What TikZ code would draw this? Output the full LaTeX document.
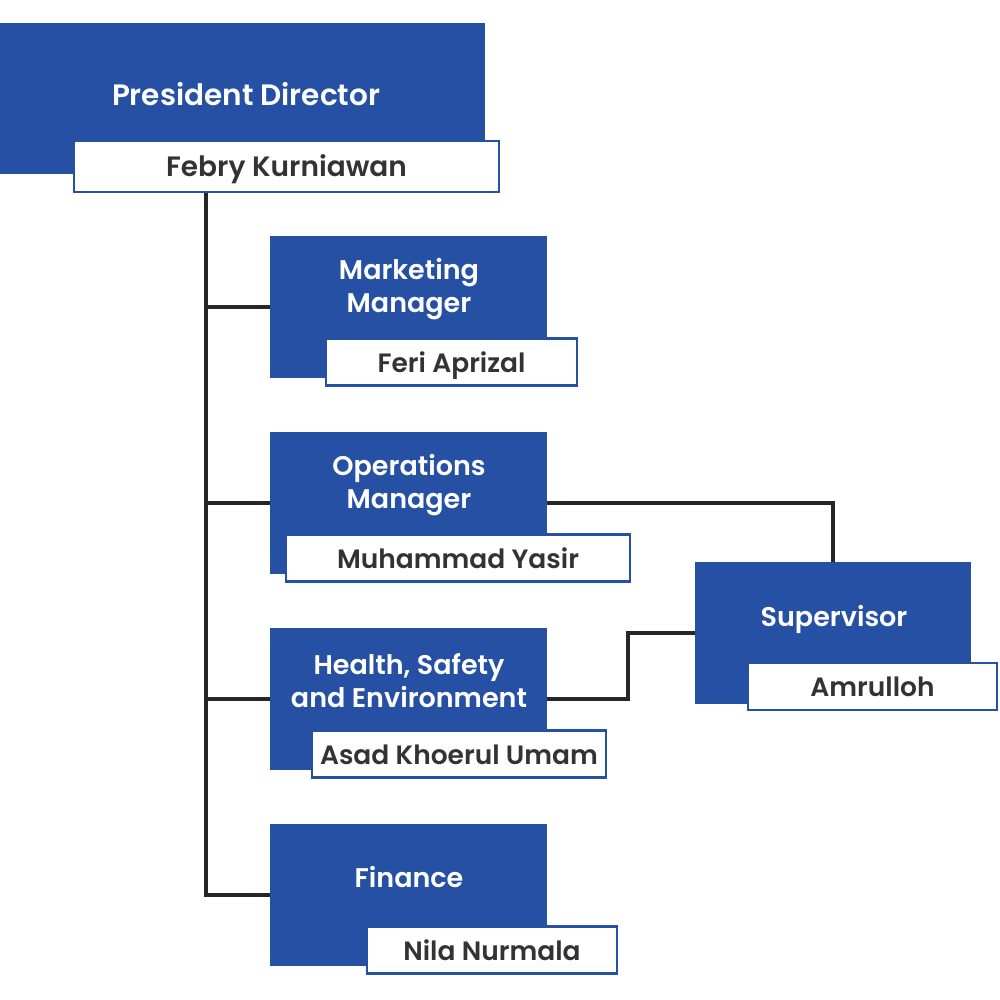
\documentclass[tikz,border=0pt]{standalone}
\usepackage{fontspec}
\setmainfont{Poppins}[BoldFont={* SemiBold}]
\usetikzlibrary{positioning}
\definecolor{orgblue}{HTML}{2550A3}
\definecolor{namegray}{HTML}{333333}
\tikzset{
  rolebox/.style={fill=orgblue, minimum width=277pt, minimum height=142pt, inner sep=0pt},
  roletext/.style={text=white, font=\bfseries\fontsize{27}{33}\selectfont, align=center, inner sep=0pt},
  namebox/.style={fill=white, draw=orgblue, line width=2.5pt, minimum height=47pt, inner sep=0pt,
    text height=24pt, text depth=4pt, text=namegray, font=\bfseries\fontsize{26.5}{30}\selectfont},
  link/.style={draw=black!85, line width=3.5pt}
}

\begin{document}
\begin{tikzpicture}[x=1pt, y=-1pt]
\useasboundingbox (0,0) rectangle (1000,1000);
\node [rolebox, minimum width=485pt, minimum height=151pt] (pres) at (242.5,98.5) {};
\node [roletext, font=\bfseries\fontsize{29.5}{34}\selectfont] (preslabel) at (246,94) {President Director};
\node [namebox, minimum width=425pt, minimum height=51pt, font=\bfseries\fontsize{28}{32}\selectfont] (presname) at (286.5,166.5) {Febry Kurniawan};
\foreach \id/\y/\role/\person/\nx/\nw in {
  mkt/307/{Marketing\\Manager}/Feri Aprizal/451.5/251,
  ops/503/{Operations\\Manager}/Muhammad Yasir/458/344,
  hse/699/{Health, Safety\\and Environment}/Asad Khoerul Umam/459/294,
  fin/895/{Finance}/Nila Nurmala/492/250} {
  \node [rolebox] (\id) at (408.5,\y) {};
  \node [roletext] (\id label) at (409,\y-18) {\role};
  \node [namebox, minimum width=\nw pt] (\id name) at (\nx,\y+55) {\person};
}
\node [rolebox, minimum width=276pt] (sup) at (833,633) {};
\node [roletext] (suplabel) at (834,619) {Supervisor};
\node [namebox, minimum width=249pt] (supname) at (872.5,686.5) {Amrulloh};
\coordinate (trunk) at (206,0);
\draw [link] (presname.south -| trunk) |- (fin.west);
\foreach \id in {mkt,ops,hse} {
  \draw [link] (\id.west -| trunk) -- (\id.west);
}
\draw [link] (ops.east) -| (sup.north);
\draw [link] (hse.east) -- ++(81,0) |- (sup.west);
\end{tikzpicture}
\end{document}
